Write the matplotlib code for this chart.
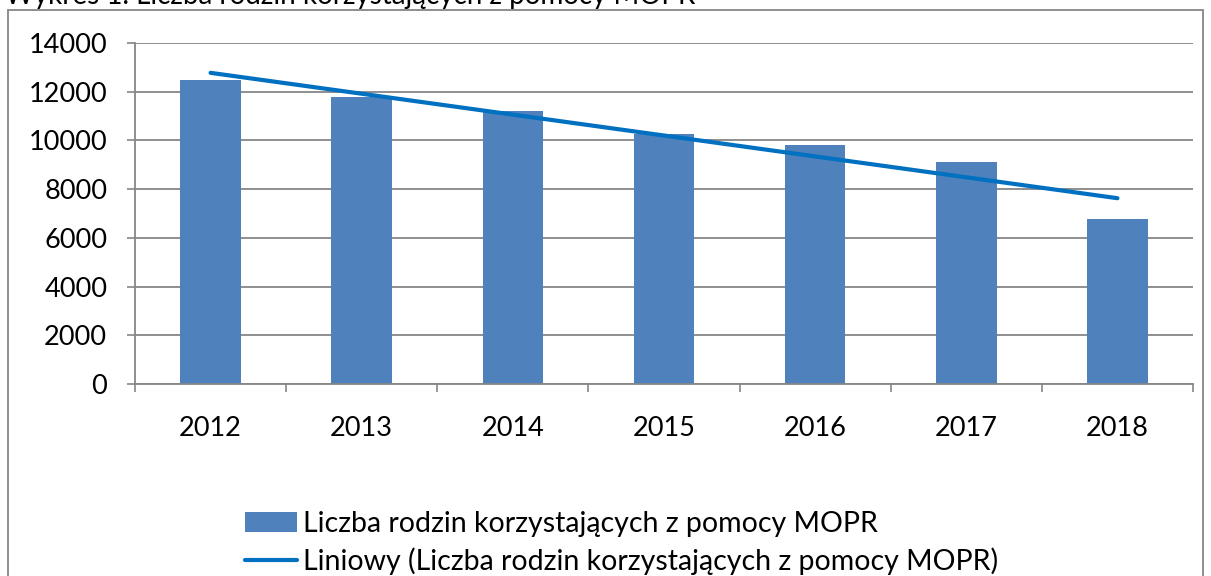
import numpy as np
import matplotlib.pyplot as plt
from matplotlib.patches import Rectangle

plt.rcParams['font.family'] = ['Lato', 'DejaVu Sans']

# dane
lata = ['2012', '2013', '2014', '2015', '2016', '2017', '2018']
rodziny = [12500, 11800, 11200, 10250, 9800, 9100, 6760]
seria = 'Liczba rodzin korzystających z pomocy MOPR'
tytul = 'Wykres 1. Liczba rodzin korzystających z pomocy MOPR'

fig = plt.figure(figsize=(12.11, 5.76), dpi=100)
ax = fig.add_axes([135 / 1211, 1 - 384 / 576, (1193 - 135) / 1211, (384 - 43) / 576])

x = np.arange(len(lata))
ax.bar(x, rodziny, width=0.4, color='#4f81bd', label=seria, zorder=2)

# linia trendu (liniowa)
a, b = np.polyfit(x, rodziny, 1)
ax.plot(x, a * x + b, color='#0070c0', lw=3, solid_capstyle='round',
        label='Liniowy (' + seria + ')', zorder=3)

ax.set_xlim(-0.5, len(lata) - 0.5)
ax.set_ylim(0, 14000)
ax.set_yticks(range(0, 14001, 2000))
ax.set_xticks(x)
ax.set_xticklabels(lata)
ax.set_xticks(np.arange(-0.5, len(lata)), minor=True)
ax.tick_params(axis='x', which='major', length=0, pad=23, labelsize=19.5)
ax.tick_params(axis='x', which='minor', length=6, color='#868686', width=1.2)
ax.tick_params(axis='y', length=6, color='#868686', width=1.2, pad=14, labelsize=19.5)
ax.yaxis.grid(True, color='#868686', lw=1.3, zorder=0)
ax.set_axisbelow(True)
for s in ['top', 'right']:
    ax.spines[s].set_visible(False)
for s in ['left', 'bottom']:
    ax.spines[s].set_color('#868686')
    ax.spines[s].set_linewidth(1.3)

h, l = ax.get_legend_handles_labels()
ax.legend(h[::-1], l[::-1], loc='upper left', bbox_to_anchor=(245 / 1211, 1 - 511 / 576),
          bbox_transform=fig.transFigure, frameon=False, fontsize=20.5,
          handlelength=1.83, handletextpad=0.2, labelspacing=0.38,
          borderpad=0, borderaxespad=0)

# ramka wykresu
fig.patches.append(Rectangle((8 / 1211, -0.1), (1203 - 8) / 1211, 1.1 - 10 / 576,
                             transform=fig.transFigure, fill=False,
                             edgecolor='#868686', lw=1.3))
fig.text(5 / 1211, 1 - 4 / 576, tytul, fontsize=20, va='baseline', ha='left')

plt.savefig('out.png', dpi=100)
